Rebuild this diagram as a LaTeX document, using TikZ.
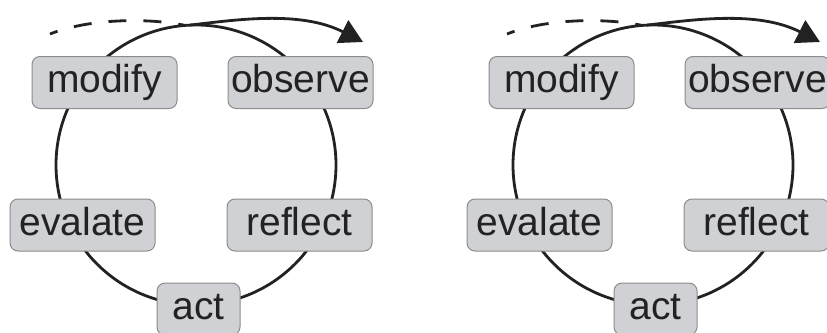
\documentclass[tikz,border=0pt]{standalone}
\usepackage{fontspec}
\setmainfont{Liberation Sans}
\usetikzlibrary{arrows.meta}
\definecolor{boxfill}{RGB}{208,209,212}
\definecolor{boxline}{RGB}{140,140,140}
\definecolor{ink}{RGB}{34,34,34}

\begin{document}
\begin{tikzpicture}[x=1pt,y=-1pt,
    box/.style={draw=boxline, fill=boxfill, rounded corners=8pt, line width=1pt,
      minimum width=145pt, minimum height=52pt, inner sep=2pt, text=ink,
      font=\fontsize{39}{44}\selectfont, text height=28pt, text depth=8pt},
    loopline/.style={draw=ink, line width=2.8pt}]
  \useasboundingbox (0,0) rectangle (827,332);

  %ciclo sinistro
  \coordinate (c1) at (196,165);
  \draw[loopline] (c1) circle[radius=140];
  \node[box] (modify1) at (104.5,82.5) {modify};
  \node[box] (observe1) at (300.5,82.5) {observe};
  \node[box] (evalate1) at (82.5,225) {evalate};
  \node[box] (reflect1) at (299.5,225) {reflect};
  \node[box, minimum width=83pt] (act1) at (198.5,309) {act};

  %freccia sinistra
  \coordinate (s1) at (50,34);
  \coordinate (m1) at (185,25.4);
  \coordinate (n1) at (190,25.1);
  \coordinate (e1) at (363,42);
  \draw[loopline, dash pattern=on 18pt off 17pt, dash phase=10pt] (s1) .. controls (90,18) and (150,18) .. (m1);
  \draw[loopline, -{Triangle[length=23pt, width=25pt]}] (n1) .. controls (235,20) and (300,10) .. (e1);

  %ciclo destro
  \coordinate (c2) at (653,165);
  \draw[loopline] (c2) circle[radius=140];
  \node[box] (modify2) at (561.5,82.5) {modify};
  \node[box] (observe2) at (757.5,82.5) {observe};
  \node[box] (evalate2) at (539.5,225) {evalate};
  \node[box] (reflect2) at (756.5,225) {reflect};
  \node[box, minimum width=83pt] (act2) at (655.5,309) {act};

  %freccia destra
  \coordinate (s2) at (507,34);
  \coordinate (m2) at (642,25.4);
  \coordinate (n2) at (647,25.1);
  \coordinate (e2) at (820,42);
  \draw[loopline, dash pattern=on 18pt off 17pt, dash phase=10pt] (s2) .. controls (547,18) and (607,18) .. (m2);
  \draw[loopline, -{Triangle[length=23pt, width=25pt]}] (n2) .. controls (692,20) and (757,10) .. (e2);
\end{tikzpicture}
\end{document}
